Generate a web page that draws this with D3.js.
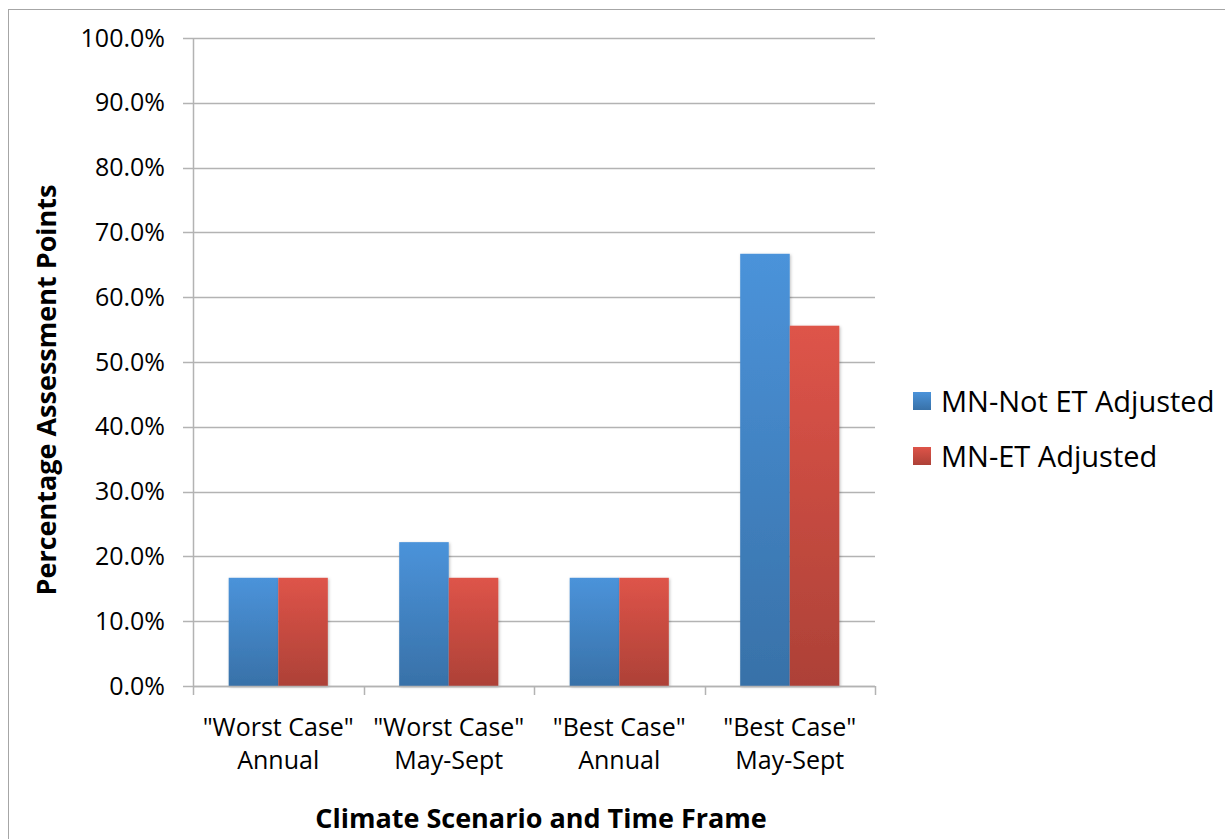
<!DOCTYPE html>
<html>
<head>
<meta charset="utf-8">
<script src="https://cdn.jsdelivr.net/npm/d3@7"></script>
<style>
  body { margin: 0; background: #fff; }
  svg { display: block; font-family: "Open Sans", "Liberation Sans", sans-serif; }
</style>
</head>
<body>
<svg id="chart" width="1225" height="839"></svg>
<script>
// Chart data
const categories = [
  ['"Worst Case"', 'Annual'],
  ['"Worst Case"', 'May-Sept'],
  ['"Best Case"', 'Annual'],
  ['"Best Case"', 'May-Sept']
];
const seriesNames = ["MN-Not ET Adjusted", "MN-ET Adjusted"];
const notAdjusted = [16.7, 22.2, 16.7, 66.7];
const etAdjusted = [16.7, 16.7, 16.7, 55.6];
const yTicks = [0, 10, 20, 30, 40, 50, 60, 70, 80, 90, 100];

const svg = d3.select("#chart");
const W = 1225, H = 839;
const plot = { left: 193, right: 875, top: 38, bottom: 686 };

// Outer frame
svg.append("rect").attr("x", 8.5).attr("y", 9.5).attr("width", W).attr("height", H)
  .attr("fill", "none").attr("stroke", "#a6a6a6").attr("stroke-width", 1);

const defs = svg.append("defs");
const palettes = [["#4b93da", "#3871a8"], ["#de5449", "#ad4137"]];
palettes.forEach((p, i) => {
  const g = defs.append("linearGradient").attr("id", "grad" + i)
    .attr("x1", 0).attr("y1", 0).attr("x2", 0).attr("y2", 1);
  g.append("stop").attr("offset", "0%").attr("stop-color", p[0]);
  g.append("stop").attr("offset", "100%").attr("stop-color", p[1]);
});
const f = defs.append("filter").attr("id", "shadow").attr("x", "-20%").attr("y", "-20%").attr("width", "140%").attr("height", "140%");
f.append("feDropShadow").attr("dx", 1).attr("dy", 1).attr("stdDeviation", 1.5).attr("flood-color", "#000").attr("flood-opacity", 0.25);

const x = d3.scaleBand().domain(d3.range(categories.length))
  .range([plot.left, plot.right]).paddingInner(0).paddingOuter(0);
const xInner = d3.scaleBand().domain([0, 1]).range([0, x.bandwidth()]).paddingOuter(0.72).paddingInner(0);
const y = d3.scaleLinear().domain([0, 100]).range([plot.bottom, plot.top]);

// Gridlines
svg.append("g").selectAll("line").data(yTicks).join("line")
  .attr("x1", plot.left - 10).attr("x2", plot.right)
  .attr("y1", d => Math.round(y(d)) + 0.5).attr("y2", d => Math.round(y(d)) + 0.5)
  .attr("stroke", "#b3b3b3").attr("stroke-width", 1.5);

// Y axis
const yAxis = d3.axisLeft(y).tickValues(yTicks).tickSize(0).tickPadding(28)
  .tickFormat(d => d.toFixed(1) + "%");
const ya = svg.append("g").attr("transform", `translate(${plot.left},0)`).call(yAxis);
ya.select(".domain").remove();
ya.selectAll("text").attr("font-size", 25).attr("fill", "#000")
  .attr("font-family", "'Open Sans', sans-serif");
svg.append("line").attr("x1", plot.left + 0.5).attr("x2", plot.left + 0.5)
  .attr("y1", plot.top).attr("y2", plot.bottom).attr("stroke", "#b3b3b3").attr("stroke-width", 1.5);

// X axis tick marks at band boundaries
const bounds = d3.range(categories.length + 1).map(i => plot.left + i * x.bandwidth());
svg.append("g").selectAll("line").data(bounds).join("line")
  .attr("x1", d => Math.round(d) + 0.5).attr("x2", d => Math.round(d) + 0.5)
  .attr("y1", plot.bottom).attr("y2", plot.bottom + 9)
  .attr("stroke", "#b3b3b3").attr("stroke-width", 1.5);

// Bars
const seriesData = [notAdjusted, etAdjusted];
seriesData.forEach((vals, s) => {
  svg.append("g").selectAll("rect").data(vals).join("rect")
    .attr("x", (d, i) => x(i) + xInner(s))
    .attr("width", xInner.bandwidth())
    .attr("y", d => y(d))
    .attr("height", d => y(0) - y(d))
    .attr("fill", `url(#grad${s})`)
    .attr("filter", "url(#shadow)");
});

// X axis line on top of bars
svg.append("line").attr("x1", plot.left).attr("x2", plot.right)
  .attr("y1", plot.bottom + 0.5).attr("y2", plot.bottom + 0.5)
  .attr("stroke", "#b3b3b3").attr("stroke-width", 1.5);

// Category labels
const cl = svg.append("g").selectAll("text").data(categories).join("text")
  .attr("text-anchor", "middle").attr("font-size", 25).attr("fill", "#000");
cl.each(function (d, i) {
  const t = d3.select(this);
  d.forEach((line, j) => {
    t.append("tspan").attr("x", x(i) + x.bandwidth() / 2).attr("y", 736 + j * 33).text(line);
  });
});

// Axis titles
svg.append("text").attr("x", 541).attr("y", 828).attr("text-anchor", "middle")
  .attr("font-size", 27).attr("font-weight", "bold").text("Climate Scenario and Time Frame");
svg.append("text").attr("transform", "translate(56,390) rotate(-90)").attr("text-anchor", "middle")
  .attr("font-size", 27).attr("font-weight", "bold").text("Percentage Assessment Points");

// Legend
const lg = svg.append("g").selectAll("g").data(seriesNames).join("g")
  .attr("transform", (d, i) => `translate(913,${392 + i * 55})`);
lg.append("rect").attr("width", 18).attr("height", 18).attr("fill", (d, i) => `url(#grad${i})`);
lg.append("text").attr("x", 28).attr("y", 20).attr("font-size", 29).attr("fill", "#000").text(d => d);
</script>
</body>
</html>
